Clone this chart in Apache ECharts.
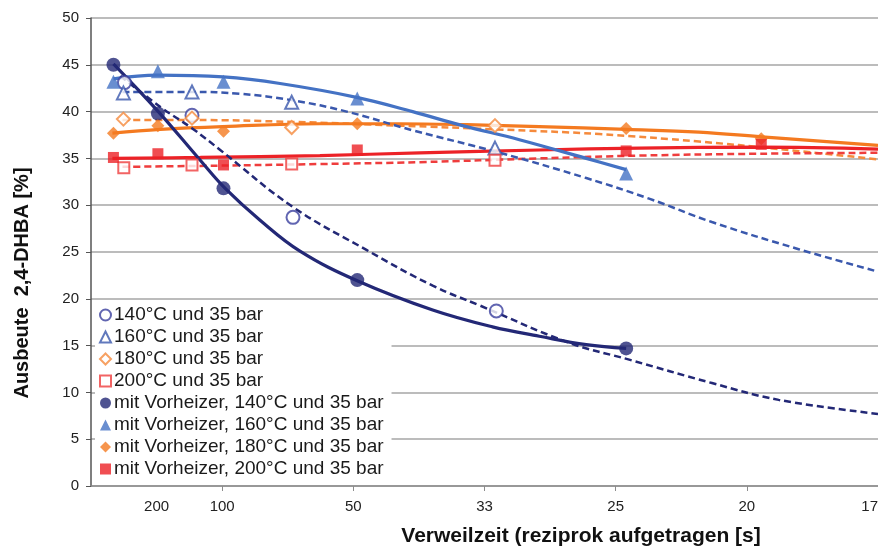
<!DOCTYPE html>
<html>
<head>
<meta charset="utf-8">
<script src="https://cdn.jsdelivr.net/npm/echarts@6/dist/echarts.min.js"></script>
<style>
html,body{margin:0;padding:0;background:#fff;}
#chart{width:878px;height:548px;}
</style>
</head>
<body>
<div id="chart"></div>
<script>
// x values are reciprocal residence time 1/t [1/s]
const xTickPositions = [0.005, 0.01, 0.02, 0.03, 0.04, 0.05, 0.06];
const xTickLabels = ['200', '100', '50', '33', '25', '20', '17'];

const seriesNames = [
  '140°C und 35 bar',
  '160°C und 35 bar',
  '180°C und 35 bar',
  '200°C und 35 bar',
  'mit Vorheizer, 140°C und 35 bar',
  'mit Vorheizer, 160°C und 35 bar',
  'mit Vorheizer, 180°C und 35 bar',
  'mit Vorheizer, 200°C und 35 bar'
];

// measured points [1/t, yield %]
const open140 = [[0.00255, 43.1], [0.0077, 39.6], [0.0154, 28.7], [0.0309, 18.7]];
const open160 = [[0.00247, 42.0], [0.0077, 42.1], [0.0153, 41.0], [0.0308, 36.1]];
const open180 = [[0.00247, 39.2], [0.0077, 39.3], [0.0153, 38.3], [0.0308, 38.5]];
const open200 = [[0.0025, 34.0], [0.0077, 34.3], [0.0153, 34.4], [0.0308, 34.8]];
const pre140 = [[0.00171, 45.0], [0.0051, 39.8], [0.0101, 31.8], [0.0203, 22.0], [0.0408, 14.7]];
const pre160 = [[0.00171, 43.2], [0.0051, 44.3], [0.0101, 43.2], [0.0203, 41.4], [0.0408, 33.4]];
const pre180 = [[0.00171, 37.7], [0.0051, 38.5], [0.0101, 37.9], [0.0203, 38.7], [0.0408, 38.2], [0.0511, 37.1]];
const pre200 = [[0.00171, 35.1], [0.0051, 35.5], [0.0101, 34.3], [0.0203, 35.9], [0.0408, 35.8], [0.0511, 36.5]];

// trend lines
const trendOpen140 = [[0.00224, 43.8], [0.00529, 40.5], [0.00772, 38.2], [0.00985, 35.9], [0.0154, 29.8], [0.02103, 25.2], [0.02605, 21.4], [0.02962, 19.3], [0.03646, 15.3], [0.04103, 13.5], [0.04734, 11.0], [0.05243, 9.2], [0.06, 7.7]];
const trendOpen160 = [[0.0024, 42.1], [0.00772, 42.1], [0.01137, 41.9], [0.0154, 41.2], [0.0195, 40.0], [0.02452, 38.0], [0.03091, 35.7], [0.03776, 32.9], [0.04255, 30.7], [0.04734, 28.2], [0.05395, 25.3], [0.06, 22.9]];
const trendOpen180 = [[0.0024, 39.1], [0.00772, 39.1], [0.0154, 38.9], [0.02354, 38.5], [0.03091, 38.1], [0.03875, 37.6], [0.04635, 36.8], [0.05243, 36.0], [0.06, 34.9]];
const trendOpen200 = [[0.0024, 34.1], [0.00833, 34.2], [0.01745, 34.4], [0.02506, 34.6], [0.03418, 35.0], [0.04179, 35.3], [0.05091, 35.5], [0.06, 35.6]];
const trendPre140 = [[0.00171, 45.1], [0.00513, 40.0], [0.00833, 34.8], [0.01023, 31.8], [0.01289, 28.4], [0.01593, 25.1], [0.02034, 21.9], [0.02605, 18.8], [0.03061, 17.0], [0.03418, 16.0], [0.03776, 15.1], [0.0408, 14.7]];
const trendPre160 = [[0.00171, 43.5], [0.00506, 43.9], [0.01008, 43.7], [0.01441, 43.0], [0.02034, 41.5], [0.02452, 40.0], [0.02833, 38.5], [0.03266, 37.0], [0.03776, 35.0], [0.0408, 33.8]];
const trendPre180 = [[0.00163, 37.7], [0.00529, 38.1], [0.01008, 38.4], [0.01745, 38.7], [0.02354, 38.7], [0.02863, 38.6], [0.03418, 38.4], [0.0408, 38.1], [0.04635, 37.8], [0.05114, 37.3], [0.06, 36.4]];
const trendPre200 = [[0.00163, 35.0], [0.00833, 35.1], [0.01745, 35.3], [0.02506, 35.6], [0.03418, 35.9], [0.04179, 36.1], [0.05091, 36.2], [0.06, 36.0]];

const FONT = '"Liberation Sans", Arial, sans-serif';
const NAVY = '#232876';
const NAVY_OPEN = '#3a3e9e';
const BLUE = '#4472c4';
const BLUE_DASH = '#3a58ad';
const ORANGE = '#f47a20';
const ORANGE_OPEN = '#f58a3c';
const RED = '#ec2227';
const RED_OPEN = '#ef3d3d';

function marks(name, data, symbol, size, color, filled) {
  return {
    name: name, type: 'scatter', data: data, symbol: symbol, symbolSize: size, z: 5,
    itemStyle: filled ? { color: color } : { color: color, borderWidth: 1.5 }
  };
}
function trend(data, color, dashed) {
  return {
    type: 'line', data: data, showSymbol: false, smooth: 0.4, z: 3, silent: true,
    lineStyle: { color: color, width: dashed ? 2.5 : 3.2, type: dashed ? [7, 4] : 'solid' }
  };
}

const series = [
  trend(trendOpen180, ORANGE_OPEN, true),
  trend(trendOpen200, RED_OPEN, true),
  trend(trendPre200, RED, false),
  trend(trendPre180, ORANGE, false),
  trend(trendOpen160, BLUE_DASH, true),
  trend(trendPre160, BLUE, false),
  trend(trendOpen140, NAVY, true),
  trend(trendPre140, NAVY, false),
  marks(seriesNames[0], open140, 'emptyCircle', 13, NAVY_OPEN, false),
  marks(seriesNames[1], open160, 'emptyTriangle', 13, BLUE_DASH, false),
  marks(seriesNames[2], open180, 'emptyDiamond', 13, ORANGE_OPEN, false),
  marks(seriesNames[3], open200, 'emptyRect', 11, RED_OPEN, false),
  marks(seriesNames[4], pre140, 'circle', 14, NAVY, true),
  marks(seriesNames[5], pre160, 'triangle', 14, BLUE, true),
  marks(seriesNames[6], pre180, 'diamond', 13, ORANGE, true),
  marks(seriesNames[7], pre200, 'rect', 11, RED, true)
];

const chart = echarts.init(document.getElementById('chart'), null, { renderer: 'canvas' });
chart.setOption({
  animation: false,
  backgroundColor: '#fff',
  textStyle: { fontFamily: FONT },
  grid: { left: 91, right: 0, top: 18, bottom: 62, containLabel: false, outerBoundsMode: 'none' },
  xAxis: {
    type: 'value', min: 0, max: 0.06, interval: 0.01,
    axisLine: { show: true, lineStyle: { color: '#8c8c8c', width: 1.5 } },
    axisTick: { show: true, length: 5, lineStyle: { color: '#8c8c8c' }, customValues: [0.01, 0.02, 0.03, 0.04, 0.05, 0.06] },
    splitLine: { show: false },
    axisLabel: {
      customValues: xTickPositions,
      margin: 13, hideOverlap: false, alignMaxLabel: 'right',
      fontSize: 15, color: '#222', fontFamily: FONT,
      formatter: function (v) {
        for (let i = 0; i < xTickPositions.length; i++) {
          if (Math.abs(xTickPositions[i] - v) < 1e-9) return xTickLabels[i];
        }
        return '';
      }
    }
  },
  yAxis: {
    type: 'value', min: 0, max: 50, interval: 5,
    axisLine: { show: true, lineStyle: { color: '#555', width: 1.5 } },
    axisTick: { show: true, length: 5, lineStyle: { color: '#555' } },
    splitLine: { show: true, lineStyle: { color: '#a6a6a6', width: 1.5 } },
    axisLabel: { margin: 12, fontSize: 15, color: '#222', fontFamily: FONT }
  },
  legend: {
    orient: 'vertical', left: 95, top: 302,
    data: seriesNames,
    backgroundColor: '#fff',
    padding: [2, 8, 4, 4],
    itemWidth: 11, itemHeight: 11, itemGap: 0,
    textStyle: { fontSize: 19, lineHeight: 22, color: '#1a1a1a', fontFamily: FONT, padding: [0, 0, 0, -2] }
  },
  graphic: [
    {
      type: 'text', x: 581, y: 536, z: 10,
      style: { text: 'Verweilzeit (reziprok aufgetragen [s]', font: 'bold 21px "Liberation Sans", Arial, sans-serif', fill: '#111', align: 'center', verticalAlign: 'middle' }
    },
    {
      type: 'text', x: 22, y: 283, rotation: Math.PI / 2, z: 10,
      style: { text: 'Ausbeute  2,4-DHBA [%]', font: 'bold 20px "Liberation Sans", Arial, sans-serif', fill: '#111', align: 'center', verticalAlign: 'middle' }
    }
  ],
  series: series
});
</script>
</body>
</html>
